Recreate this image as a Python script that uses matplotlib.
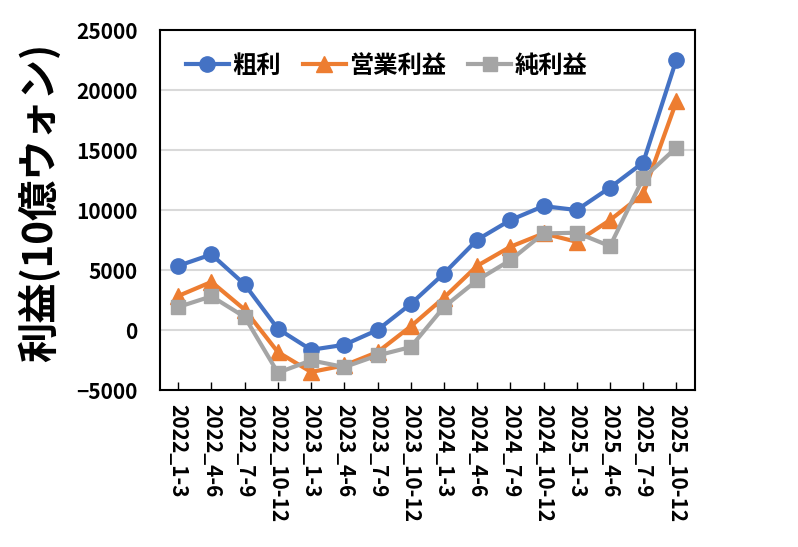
import matplotlib
matplotlib.use("Agg")
import matplotlib.pyplot as plt

plt.rcParams['font.family'] = ['Noto Sans CJK JP', 'DejaVu Sans']
plt.rcParams['font.weight'] = 'bold'

# Quarterly labels and profit series (unit: 10億ウォン)
quarters = ["2022_1-3", "2022_4-6", "2022_7-9", "2022_10-12",
            "2023_1-3", "2023_4-6", "2023_7-9", "2023_10-12",
            "2024_1-3", "2024_4-6", "2024_7-9", "2024_10-12",
            "2025_1-3", "2025_4-6", "2025_7-9", "2025_10-12"]
gross_profit = [5350, 6300, 3800, 100, -1650, -1230, 0, 2170,
                4710, 7520, 9160, 10330, 10000, 11870, 13960, 22540]
operating_profit = [2840, 4010, 1700, -1840, -3500, -2950, -1840, 300,
                    2700, 5350, 6940, 8050, 7350, 9160, 11340, 19050]
net_profit = [1920, 2810, 1090, -3560, -2530, -3090, -2120, -1420,
              1920, 4150, 5820, 8050, 8110, 6990, 12650, 15210]

fig = plt.figure(figsize=(7.98, 5.47), dpi=100)
ax = fig.add_axes([0.2005, 0.287, 0.67, 0.658])

x = range(len(quarters))
ax.plot(x, gross_profit, color="#4472C4", lw=3, marker="o", ms=11, label="粗利", zorder=3)
ax.plot(x, operating_profit, color="#ED7D31", lw=3, marker="^", ms=11, label="営業利益", zorder=3)
ax.plot(x, net_profit, color="#A5A5A5", lw=3, marker="s", ms=10, label="純利益", zorder=3)

ax.set_xlim(-0.55, 15.55)
ax.set_ylim(-5000, 25000)
ax.set_yticks(range(-5000, 25001, 5000))
ax.set_xticks(list(x))
ax.set_xticklabels(quarters, rotation=-90, fontsize=15, fontweight="bold")
for lab in ax.get_yticklabels():
    lab.set_fontsize(15)
    lab.set_fontweight("bold")
ax.tick_params(axis="y", length=0, pad=16)
ax.tick_params(axis="x", direction="in", length=6, width=1, pad=10)

for y in range(0, 25000, 5000):
    ax.axhline(y, color="#D9D9D9", lw=1.5, zorder=1)
for s in ax.spines.values():
    s.set_linewidth(1.5)
    s.set_color("black")

ax.set_ylabel("利益(10億ウォン)", fontsize=29, fontweight="bold")
ax.yaxis.set_label_coords(-0.185, 0.52)

ax.legend(loc="upper left", ncol=3, frameon=False,
          prop={"size": 17.5, "weight": "bold"}, handlelength=1.77,
          columnspacing=0.9, handletextpad=0.15, borderaxespad=0.0,
          bbox_to_anchor=(0.03, 0.962))

fig.savefig("out.png", dpi=100)
